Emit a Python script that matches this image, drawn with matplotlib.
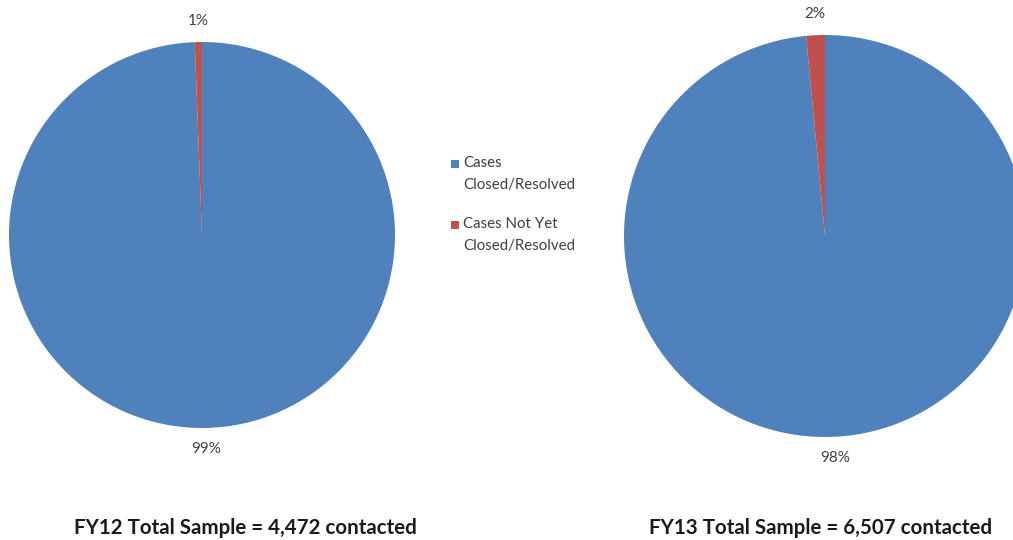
import matplotlib
matplotlib.use("Agg")
import matplotlib.pyplot as plt
from matplotlib.patches import Rectangle

plt.rcParams['font.family'] = ['Lato', 'DejaVu Sans']

categories = ["Cases\nClosed/Resolved", "Cases Not Yet\nClosed/Resolved"]
fy12_values = [99.4, 0.6]
fy13_values = [98.5, 1.5]
titles = ["FY12 Total Sample = 4,472 contacted", "FY13 Total Sample = 6,507 contacted"]
colors = ["#4F81BD", "#C0504D"]

W, H = 1013, 540
fig = plt.figure(figsize=(W / 100, H / 100), dpi=100)
fig.patch.set_facecolor("white")

def add_pie(cx, cy, r, values, pctd):
    ax = fig.add_axes([(cx - r) / W, (H - cy - r) / H, 2 * r / W, 2 * r / H])
    wedges, texts, autotexts = ax.pie(values, colors=colors, startangle=90, counterclock=False,
                                      autopct=lambda p: "%.0f%%" % p, pctdistance=pctd,
                                      radius=1.0, wedgeprops=dict(linewidth=0))
    for t in autotexts:
        t.set_color("#404040")
        t.set_fontsize(11)
    ax.set_xlim(-1, 1)
    ax.set_ylim(-1, 1)
    ax.set_aspect("equal")
    ax.axis("off")
    return ax

add_pie(202, 235, 193, fy12_values, 1.11)
add_pie(825, 236, 201, fy13_values, 1.105)

# legend
leg_y = [164, 225]
for i, (lab, col) in enumerate(zip(categories, colors)):
    y = leg_y[i]
    fig.patches.append(Rectangle((451 / W, (H - y - 4) / H), 8 / W, 8 / H,
                                 transform=fig.transFigure, facecolor=col, edgecolor="none"))
    fig.text(463 / W, (H - y + 8) / H, lab, fontsize=10.8, color="#404040",
             va="top", ha="left", linespacing=1.7)

fig.text(245 / W, (H - 528) / H, titles[0], fontsize=14.8, fontweight="bold",
         color="#1a1a1a", ha="center", va="center")
fig.text(821 / W, (H - 528) / H, titles[1], fontsize=14.8, fontweight="bold",
         color="#1a1a1a", ha="center", va="center")

fig.savefig("out.png", dpi=100)
